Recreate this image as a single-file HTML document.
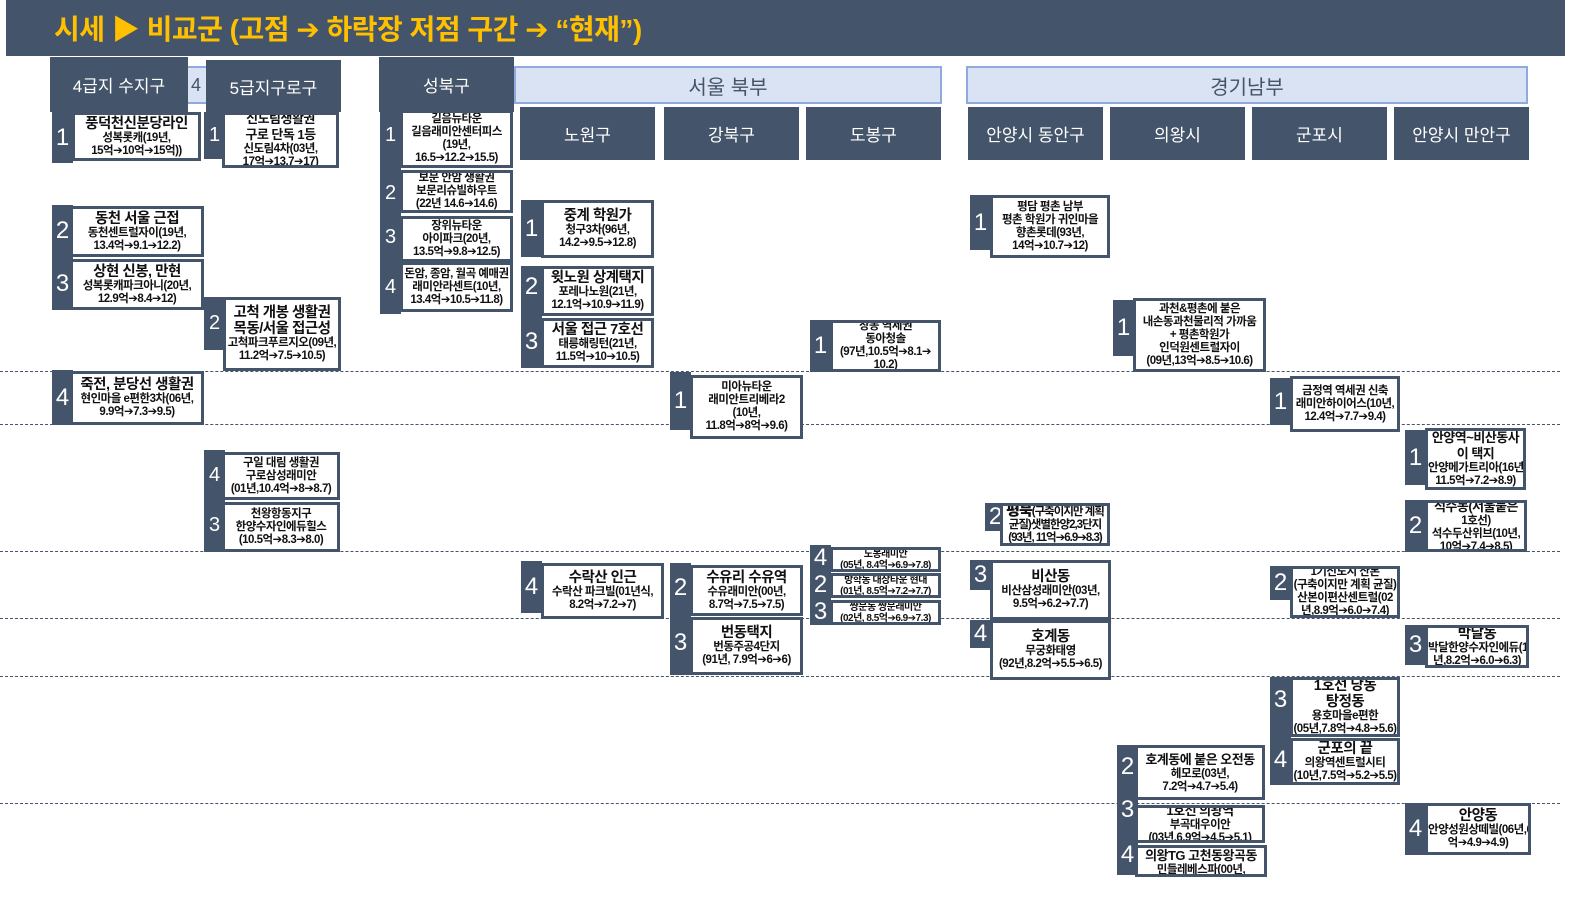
<!DOCTYPE html>
<html><head><meta charset="utf-8">
<style>
*{margin:0;padding:0;box-sizing:border-box}
body{width:1594px;height:901px;background:#fff;position:relative;overflow:hidden;font-family:"Liberation Sans","Noto Sans CJK KR","DejaVu Sans",sans-serif;color:#111}
.hd{position:absolute;left:6px;top:0;width:1559px;height:56px;background:#44546A;color:#FFC000;font-size:28px;font-weight:bold;padding:8px 0 0 48px;letter-spacing:-0.5px}
.dk{position:absolute;background:#44546A;color:#fff;font-size:17px;display:flex;align-items:center;justify-content:center}
.lt{position:absolute;background:#DAE3F3;border:2px solid #8FAADC;color:#44546A;font-size:20px;display:flex;align-items:center;justify-content:center}
.dl{position:absolute;left:0;width:1560px;border-top:1.5px dashed #44546A}
.t{position:absolute;background:#44546A;color:#fff;font-size:24px;display:flex;align-items:center;justify-content:center;width:21px}
.b{position:absolute;background:#fff;border:3px solid #44546A;text-align:center;font-size:11.5px;line-height:13px;font-weight:bold;overflow:hidden;display:flex;flex-direction:column;justify-content:center;letter-spacing:-0.5px;white-space:nowrap}
.b .h{font-size:14.5px;line-height:16px}
.s .h{font-size:10px;line-height:11px}
.s{font-size:10px;line-height:11px}
</style></head><body>
<div class="hd">시세 ▶ 비교군 (고점 ➔ 하락장 저점 구간 ➔ “현재”)</div>

<div class="dl" style="top:371px"></div>
<div class="dl" style="top:424px"></div>
<div class="dl" style="top:551px"></div>
<div class="dl" style="top:618px"></div>
<div class="dl" style="top:676px"></div>
<div class="dl" style="top:803px"></div>

<div class="lt" style="left:186px;top:66px;width:24px;height:38px;font-size:18px;justify-content:flex-start;padding-left:3px">4</div>
<div class="dk" style="left:50px;top:57px;width:138px;height:55px">4급지 수지구</div>
<div class="dk" style="left:206px;top:60px;width:135px;height:52px">5급지구로구</div>
<div class="dk" style="left:379px;top:57px;width:135px;height:55px">성북구</div>
<div class="lt" style="left:514px;top:66px;width:428px;height:38px">서울 북부</div>
<div class="lt" style="left:966px;top:66px;width:562px;height:38px">경기남부</div>
<div class="dk" style="left:520px;top:107px;width:135px;height:53px">노원구</div>
<div class="dk" style="left:664px;top:107px;width:135px;height:53px">강북구</div>
<div class="dk" style="left:806px;top:107px;width:135px;height:53px">도봉구</div>
<div class="dk" style="left:968px;top:107px;width:135px;height:53px">안양시 동안구</div>
<div class="dk" style="left:1110px;top:107px;width:135px;height:53px">의왕시</div>
<div class="dk" style="left:1252px;top:107px;width:135px;height:53px">군포시</div>
<div class="dk" style="left:1394px;top:107px;width:135px;height:53px">안양시 만안구</div>

<!-- Suji -->
<div class="t" style="left:52px;top:112px;height:51px">1</div>
<div class="b" style="left:72px;top:112px;width:129px;height:49px"><div class="h">풍덕천신분당라인</div>성복롯캐(19년,<br>15억➔10억➔15억))</div>
<div class="t" style="left:52px;top:205px;height:105px"></div>
<div class="t" style="left:52px;top:217px;height:28px;background:none">2</div>
<div class="t" style="left:52px;top:270px;height:28px;background:none">3</div>
<div class="b" style="left:70px;top:206px;width:134px;height:51px"><div class="h">동천 서울 근접</div>동천센트럴자이(19년,<br>13.4억➔9.1➔12.2)</div>
<div class="b" style="left:70px;top:259px;width:134px;height:51px"><div class="h">상현 신봉, 만현</div>성복롯캐파크아니(20년,<br>12.9억➔8.4➔12)</div>
<div class="t" style="left:52px;top:370px;height:55px">4</div>
<div class="b" style="left:70px;top:371px;width:134px;height:54px"><div class="h">죽전, 분당선 생활권</div>현인마을 e편한3차(06년,<br>9.9억➔7.3➔9.5)</div>

<!-- Guro -->
<div class="t" style="left:204px;top:112px;height:47px;font-size:20px">1</div>
<div class="b" style="left:222px;top:112px;width:117px;height:56px"><div class="h" style="font-size:13px">신도림생활권</div><div class="h" style="font-size:13px">구로 단독 1등</div>신도림4차(03년,<br>17억➔13.7➔17)</div>
<div class="t" style="left:204px;top:297px;height:53px;font-size:20px">2</div>
<div class="b" style="left:223px;top:297px;width:118px;height:74px"><div class="h">고척 개봉 생활권</div><div class="h">목동/서울 접근성</div>고척파크푸르지오(09년,<br>11.2억➔7.5➔10.5)</div>
<div class="t" style="left:204px;top:450px;height:102px;font-size:20px"></div>
<div class="t" style="left:204px;top:460px;height:30px;font-size:20px;background:none">4</div>
<div class="t" style="left:204px;top:510px;height:30px;font-size:20px;background:none">3</div>
<div class="b" style="left:222px;top:452px;width:118px;height:48px">구일 대림 생활권<br>구로삼성래미안<br>(01년,10.4억➔8➔8.7)</div>
<div class="b" style="left:222px;top:502px;width:118px;height:50px">천왕항동지구<br>한양수자인에듀힐스<br>(10.5억➔8.3➔8.0)</div>

<!-- Seongbuk -->
<div class="t" style="left:380px;top:112px;height:202px;font-size:20px"></div>
<div class="t" style="left:380px;top:120px;height:30px;font-size:20px;background:none">1</div>
<div class="t" style="left:380px;top:178px;height:30px;font-size:20px;background:none">2</div>
<div class="t" style="left:380px;top:222px;height:30px;font-size:20px;background:none">3</div>
<div class="t" style="left:380px;top:272px;height:30px;font-size:20px;background:none">4</div>
<div class="b" style="left:400px;top:110px;width:113px;height:58px;justify-content:flex-end">길음뉴타운<br>길음래미안센터피스<br>(19년,<br>16.5➔12.2➔15.5)</div>
<div class="b" style="left:400px;top:170px;width:113px;height:43px">보문 안암 생활권<br>보문리슈빌하우트<br>(22년 14.6➔14.6)</div>
<div class="b" style="left:400px;top:216px;width:113px;height:46px">장위뉴타운<br>아이파크(20년,<br>13.5억➔9.8➔12.5)</div>
<div class="b" style="left:400px;top:262px;width:113px;height:50px">돈암, 종암, 월곡 예매권<br>래미안라센트(10년,<br>13.4억➔10.5➔11.8)</div>

<!-- Nowon -->
<div class="t" style="left:521px;top:200px;height:57px">1</div>
<div class="b" style="left:541px;top:200px;width:113px;height:58px"><div class="h">중계 학원가</div>청구3차(96년,<br>14.2➔9.5➔12.8)</div>
<div class="t" style="left:521px;top:266px;height:102px"></div>
<div class="t" style="left:521px;top:272px;height:30px;background:none">2</div>
<div class="t" style="left:521px;top:327px;height:30px;background:none">3</div>
<div class="b" style="left:541px;top:266px;width:113px;height:50px"><div class="h">윗노원 상계택지</div>포레나노원(21년,<br>12.1억➔10.9➔11.9)</div>
<div class="b" style="left:541px;top:318px;width:113px;height:50px"><div class="h">서울 접근 7호선</div>태릉해링턴(21년,<br>11.5억➔10➔10.5)</div>
<div class="t" style="left:521px;top:561px;height:52px">4</div>
<div class="b" style="left:541px;top:563px;width:123px;height:56px"><div class="h">수락산 인근</div>수락산 파크빌(01년식,<br>8.2억➔7.2➔7)</div>

<!-- Gangbuk -->
<div class="t" style="left:670px;top:372px;height:58px">1</div>
<div class="b" style="left:690px;top:375px;width:113px;height:64px">미아뉴타운<br>래미안트리베라2<br>(10년,<br>11.8억➔8억➔9.6)</div>
<div class="t" style="left:670px;top:563px;height:112px"></div>
<div class="t" style="left:670px;top:573px;height:30px;background:none">2</div>
<div class="t" style="left:670px;top:628px;height:30px;background:none">3</div>
<div class="b" style="left:690px;top:565px;width:113px;height:51px"><div class="h">수유리 수유역</div>수유래미안(00년,<br>8.7억➔7.5➔7.5)</div>
<div class="b" style="left:690px;top:617px;width:113px;height:58px"><div class="h">번동택지</div>번동주공4단지<br>(91년, 7.9억➔6➔6)</div>

<!-- Dobong -->
<div class="t" style="left:810px;top:320px;height:52px">1</div>
<div class="b" style="left:830px;top:320px;width:111px;height:52px">창동 역세권<br>동아청솔<br>(97년,10.5억➔8.1➔<br>10.2)</div>
<div class="t" style="left:810px;top:545px;height:80px"></div>
<div class="t" style="left:810px;top:546px;height:24px;background:none">4</div>
<div class="t" style="left:810px;top:573px;height:24px;background:none">2</div>
<div class="t" style="left:810px;top:600px;height:24px;background:none">3</div>
<div class="b s" style="left:830px;top:547px;width:111px;height:25px">도봉래미안<br>(05년, 8.4억➔6.9➔7.8)</div>
<div class="b s" style="left:830px;top:573px;width:111px;height:25px">방학동 대상타운 현대<br>(01년, 8.5억➔7.2➔7.7)</div>
<div class="b s" style="left:830px;top:600px;width:111px;height:25px">쌍문동 쌍문래미안<br>(02년, 8.5억➔6.9➔7.3)</div>

<!-- Dongan -->
<div class="t" style="left:970px;top:195px;height:55px">1</div>
<div class="b" style="left:990px;top:195px;width:120px;height:63px">평담 평촌 남부<br>평촌 학원가 귀인마을<br>향촌롯데(93년,<br>14억➔10.7➔12)</div>
<div class="t" style="left:985px;top:503px;height:28px">2</div>
<div class="b" style="left:1000px;top:503px;width:110px;height:43px;white-space:normal;letter-spacing:-1px"><span><b style="font-size:15px">평북</b>(구축이지만 계획 균질)샛별한양2,3단지(93년, 11억➔6.9➔8.3)</span></div>
<div class="t" style="left:970px;top:560px;height:30px">3</div>
<div class="b" style="left:990px;top:560px;width:121px;height:60px"><div class="h">비산동</div>비산삼성래미안(03년,<br>9.5억➔6.2➔7.7)</div>
<div class="t" style="left:970px;top:620px;height:28px">4</div>
<div class="b" style="left:990px;top:620px;width:121px;height:60px"><div class="h">호계동</div>무궁화태영<br>(92년,8.2억➔5.5➔6.5)</div>

<!-- Uiwang -->
<div class="t" style="left:1113px;top:300px;height:56px">1</div>
<div class="b" style="left:1133px;top:298px;width:133px;height:74px">과천&amp;평촌에 붙은<br>내손동과천물리적 가까움<br>+ 평촌학원가<br>인덕원센트럴자이<br>(09년,13억➔8.5➔10.6)</div>
<div class="t" style="left:1117px;top:745px;height:130px"></div>
<div class="t" style="left:1117px;top:752px;height:30px;background:none">2</div>
<div class="t" style="left:1117px;top:795px;height:30px;background:none">3</div>
<div class="t" style="left:1117px;top:840px;height:30px;background:none">4</div>
<div class="b" style="left:1135px;top:745px;width:130px;height:55px"><div class="h" style="font-size:13px">호계동에 붙은 오전동</div>헤모로(03년,<br>7.2억➔4.7➔5.4)</div>
<div class="b" style="left:1135px;top:805px;width:130px;height:38px"><div class="h" style="font-size:13px">1호선 의왕역</div>부곡대우이안<br>(03년,6.9억➔4.5➔5.1)</div>
<div class="b" style="left:1135px;top:845px;width:132px;height:32px;justify-content:flex-start"><div class="h" style="font-size:13px">의왕TG 고천동왕곡동</div>민들레베스파(00년,<br>6.4억➔4.85➔4.8)</div>

<!-- Gunpo -->
<div class="t" style="left:1270px;top:378px;height:47px">1</div>
<div class="b" style="left:1290px;top:376px;width:110px;height:56px">금정역 역세권 신축<br>래미안하이어스(10년,<br>12.4억➔7.7➔9.4)</div>
<div class="t" style="left:1270px;top:566px;height:34px">2</div>
<div class="b" style="left:1290px;top:566px;width:110px;height:52px">1기신도시 산본<br>(구축이지만 계획 균질)<br>산본이편산센트럴(02<br>년,8.9억➔6.0➔7.4)</div>
<div class="t" style="left:1270px;top:677px;height:108px"></div>
<div class="t" style="left:1270px;top:685px;height:30px;background:none">3</div>
<div class="t" style="left:1270px;top:745px;height:30px;background:none">4</div>
<div class="b" style="left:1290px;top:677px;width:110px;height:60px"><div class="h">1호선 당동</div><div class="h">탕정동</div>용호마을e편한<br>(05년,7.8억➔4.8➔5.6)</div>
<div class="b" style="left:1290px;top:738px;width:110px;height:47px"><div class="h">군포의 끝</div>의왕역센트럴시티<br>(10년,7.5억➔5.2➔5.5)</div>

<!-- Manan -->
<div class="t" style="left:1405px;top:430px;height:55px">1</div>
<div class="b" style="left:1425px;top:428px;width:101px;height:62px"><div class="h" style="font-size:13px">안양역~비산동사</div><div class="h" style="font-size:13px">이 택지</div>안양메가트리아(16년<br>11.5억➔7.2➔8.9)</div>
<div class="t" style="left:1405px;top:500px;height:52px">2</div>
<div class="b" style="left:1425px;top:500px;width:102px;height:52px"><div class="h" style="font-size:13px">석수동(서울붙은</div>1호선)<br>석수두산위브(10년,<br>10억➔7.4➔8.5)</div>
<div class="t" style="left:1405px;top:625px;height:40px">3</div>
<div class="b" style="left:1425px;top:625px;width:104px;height:43px"><div class="h">박달동</div>박달한양수자인에듀(17<br>년,8.2억➔6.0➔6.3)</div>
<div class="t" style="left:1405px;top:803px;height:52px">4</div>
<div class="b" style="left:1425px;top:803px;width:106px;height:52px"><div class="h">안양동</div>안양성원상떼빌(06년,6.8<br>억➔4.9➔4.9)</div>
</body></html>
